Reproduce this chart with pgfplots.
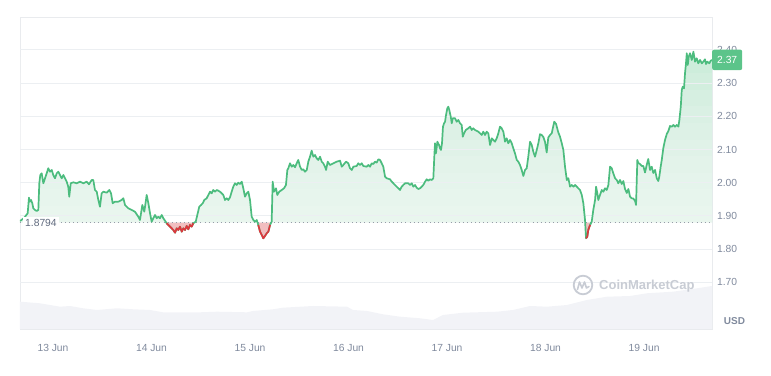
\documentclass[border=0pt]{standalone}
\usepackage{pgfplots}
\pgfplotsset{compat=1.18}
\usepackage{pgfplotstable}
\usepackage{fontspec}
\setmainfont{Liberation Sans}
\definecolor{cmcgreen}{RGB}{76,188,126}
\definecolor{badgegreen}{RGB}{92,196,138}
\definecolor{fillgreen}{RGB}{200,236,215}
\definecolor{cmcred}{RGB}{220,56,62}
\definecolor{redfill}{RGB}{242,190,192}
\definecolor{volcol}{RGB}{242,243,247}
\definecolor{gridcol}{RGB}{236,239,242}
\definecolor{framecol}{RGB}{233,235,238}
\definecolor{labelcol}{RGB}{128,138,157}
\definecolor{darklabel}{RGB}{96,106,126}
\definecolor{wmcol}{RGB}{200,204,212}
\definecolor{dotcol}{RGB}{150,156,168}

\pgfplotstableread{
d v
-0.335 1.8846
-0.294 1.8937
-0.257 1.9078
-0.244 1.9548
-0.234 1.9428
-0.223 1.9479
-0.210 1.9380
-0.200 1.9229
-0.183 1.9178
-0.165 1.9148
-0.149 1.9178
-0.139 1.9982
-0.129 2.0232
-0.115 2.0283
-0.098 1.9982
-0.081 2.0133
-0.064 2.0283
-0.048 2.0434
-0.030 2.0331
-0.013 2.0383
0.003 2.0232
0.020 2.0133
0.038 2.0283
0.054 2.0331
0.071 2.0232
0.088 2.0133
0.105 2.0232
0.122 2.0133
0.139 2.0030
0.155 1.9880
0.165 1.9578
0.180 1.9982
0.206 2.0012
0.241 1.9982
0.274 2.0030
0.308 1.9982
0.342 2.0030
0.365 1.9952
0.393 2.0081
0.409 2.0081
0.426 1.9780
0.444 1.9729
0.460 1.9479
0.477 1.9277
0.494 1.9681
0.511 1.9729
0.545 1.9699
0.572 1.9780
0.589 1.9681
0.606 1.9380
0.629 1.9428
0.663 1.9428
0.697 1.9479
0.714 1.9530
0.731 1.9328
0.764 1.9229
0.799 1.9178
0.832 1.9126
0.866 1.8976
0.883 1.8876
0.907 1.9328
0.927 1.9126
0.951 1.9630
0.968 1.9380
0.985 1.9078
1.002 1.8825
1.018 1.8928
1.036 1.9027
1.053 1.8928
1.069 1.8976
1.086 1.8928
1.104 1.9027
1.120 1.8928
1.137 1.8855
1.154 1.8777
1.188 1.8675
1.221 1.8575
1.239 1.8494
1.256 1.8626
1.272 1.8575
1.289 1.8675
1.307 1.8524
1.323 1.8626
1.340 1.8575
1.357 1.8696
1.374 1.8596
1.391 1.8726
1.408 1.8675
1.424 1.8777
1.449 1.8825
1.465 1.9027
1.485 1.9277
1.503 1.9328
1.520 1.9380
1.536 1.9479
1.560 1.9530
1.577 1.9630
1.594 1.9729
1.611 1.9681
1.627 1.9780
1.645 1.9729
1.662 1.9780
1.678 1.9759
1.695 1.9729
1.713 1.9681
1.729 1.9630
1.746 1.9479
1.764 1.9530
1.780 1.9479
1.797 1.9560
1.814 1.9729
1.830 1.9880
1.848 1.9982
1.865 1.9931
1.881 2.0000
1.898 1.9961
1.916 2.0030
1.932 1.9831
1.949 1.9578
1.966 1.9681
1.983 1.9729
2.000 1.9479
2.017 1.8976
2.034 1.8876
2.051 1.8825
2.068 1.8876
2.084 1.8726
2.102 1.8524
2.119 1.8425
2.135 1.8325
2.152 1.8395
2.170 1.8476
2.186 1.8524
2.203 1.8726
2.220 1.8825
2.230 2.0030
2.244 1.9729
2.264 1.9831
2.277 1.9630
2.297 1.9729
2.322 1.9780
2.345 1.9831
2.365 1.9931
2.379 2.0383
2.389 2.0434
2.406 2.0584
2.423 2.0482
2.440 2.0533
2.457 2.0464
2.474 2.0584
2.490 2.0684
2.508 2.0482
2.525 2.0383
2.541 2.0404
2.558 2.0331
2.576 2.0383
2.592 2.0633
2.609 2.0783
2.626 2.0964
2.643 2.0783
2.660 2.0834
2.677 2.0735
2.693 2.0684
2.711 2.0783
2.728 2.0633
2.744 2.0584
2.761 2.0482
2.772 2.0383
2.789 2.0633
2.812 2.0533
2.846 2.0584
2.880 2.0633
2.914 2.0663
2.931 2.0482
2.947 2.0533
2.975 2.0633
2.998 2.0584
3.015 2.0434
3.033 2.0383
3.049 2.0482
3.083 2.0503
3.099 2.0584
3.117 2.0533
3.134 2.0584
3.150 2.0503
3.185 2.0482
3.201 2.0533
3.218 2.0482
3.236 2.0584
3.252 2.0563
3.269 2.0633
3.286 2.0603
3.303 2.0705
3.320 2.0684
3.337 2.0584
3.353 2.0482
3.371 2.0181
3.388 2.0133
3.421 2.0102
3.439 2.0030
3.455 1.9982
3.472 1.9931
3.489 1.9880
3.506 1.9831
3.523 1.9780
3.540 1.9880
3.556 1.9931
3.574 1.9982
3.607 1.9982
3.624 1.9931
3.642 1.9982
3.658 1.9880
3.675 1.9931
3.692 1.9849
3.709 1.9810
3.726 1.9831
3.743 1.9880
3.759 1.9931
3.777 2.0030
3.794 2.0102
3.810 2.0060
3.827 2.0102
3.845 2.0081
3.861 2.0133
3.871 2.0783
3.878 2.1187
3.888 2.0886
3.902 2.1235
3.919 2.1136
3.929 2.1036
3.939 2.0985
3.949 2.1187
3.959 2.1687
3.970 2.1789
3.980 2.1837
3.990 2.2039
4.003 2.2241
4.013 2.2289
4.023 2.2190
4.038 2.1988
4.048 2.1789
4.058 2.1940
4.081 2.1940
4.098 2.1837
4.115 2.1889
4.132 2.1789
4.149 2.1738
4.160 2.1386
4.173 2.1488
4.190 2.1587
4.216 2.1639
4.234 2.1687
4.251 2.1587
4.267 2.1639
4.284 2.1587
4.318 2.1536
4.335 2.1488
4.352 2.1437
4.368 2.1536
4.386 2.1437
4.403 2.1536
4.419 2.1488
4.437 2.1136
4.454 2.1337
4.470 2.1286
4.487 2.1235
4.504 2.1337
4.521 2.1488
4.538 2.1687
4.555 2.1639
4.572 2.1536
4.589 2.1235
4.606 2.1337
4.622 2.1187
4.640 2.1286
4.657 2.1187
4.673 2.1036
4.690 2.0886
4.708 2.0684
4.724 2.0633
4.741 2.0533
4.758 2.0383
4.775 2.0202
4.792 2.0383
4.809 2.0434
4.825 2.0783
4.843 2.1235
4.860 2.1136
4.876 2.0934
4.893 2.0783
4.911 2.0985
4.927 2.1187
4.944 2.1460
4.961 2.1437
4.978 2.1376
4.995 2.1226
5.012 2.0910
5.028 2.1361
5.046 2.1437
5.063 2.1488
5.079 2.1708
5.089 2.1837
5.107 2.1768
5.130 2.1512
5.147 2.1386
5.165 2.1187
5.181 2.0985
5.198 2.0482
5.216 2.0081
5.232 2.0133
5.249 1.9880
5.266 1.9931
5.283 1.9880
5.300 1.9931
5.317 1.9880
5.333 1.9831
5.350 1.9780
5.368 1.9630
5.384 1.9380
5.401 1.8876
5.411 1.8325
5.424 1.8373
5.434 1.8575
5.452 1.8726
5.469 1.8825
5.485 1.9178
5.503 1.9479
5.513 1.9880
5.526 1.9681
5.536 1.9479
5.553 1.9630
5.571 1.9780
5.587 1.9729
5.604 1.9831
5.621 1.9780
5.638 1.9931
5.655 2.0482
5.672 2.0434
5.688 2.0283
5.706 2.0133
5.723 2.0081
5.739 1.9982
5.756 2.0081
5.774 1.9961
5.790 2.0051
5.807 1.9810
5.825 1.9690
5.841 1.9810
5.858 1.9578
5.875 1.9530
5.891 1.9524
5.909 1.9449
5.919 1.9328
5.932 2.0684
5.942 2.0593
5.959 2.0563
5.977 2.0503
5.993 2.0503
6.010 2.0307
6.027 2.0533
6.043 2.0714
6.061 2.0383
6.078 2.0482
6.094 2.0292
6.112 2.0383
6.129 2.0133
6.145 2.0051
6.155 2.0181
6.169 2.0482
6.180 2.0684
6.196 2.1045
6.213 2.1286
6.231 2.1467
6.247 2.1557
6.264 2.1708
6.282 2.1687
6.298 2.1738
6.315 2.1687
6.332 2.1738
6.349 2.1687
6.359 2.1889
6.373 2.2289
6.383 2.2792
6.393 2.2892
6.406 2.2843
6.416 2.3295
6.426 2.3596
6.434 2.3898
6.444 2.3545
6.454 2.3795
6.467 2.3898
6.485 2.3696
6.501 2.3946
6.518 2.3645
6.535 2.3747
6.551 2.3596
6.569 2.3696
6.586 2.3596
6.602 2.3645
6.619 2.3717
6.629 2.3575
6.643 2.3645
6.663 2.3596
6.677 2.3675
6.690 2.3696
}\pricedata

\pgfplotstableread{
d v
-0.335 1.6416
-0.132 1.6367
-0.030 1.6316
0.071 1.6265
0.173 1.6286
0.305 1.6217
0.447 1.6166
0.650 1.6217
0.812 1.6187
0.985 1.6166
1.117 1.6096
1.492 1.6096
1.665 1.6114
1.970 1.6096
2.030 1.6136
2.234 1.6187
2.335 1.6235
2.640 1.6286
2.985 1.6265
3.046 1.6166
3.188 1.6136
3.350 1.6036
3.523 1.5964
3.726 1.5916
3.858 1.5864
3.959 1.6015
4.162 1.6084
4.508 1.6114
4.670 1.6166
4.843 1.6286
5.015 1.6265
5.218 1.6316
5.421 1.6467
5.624 1.6566
5.858 1.6587
6.030 1.6669
6.294 1.6717
6.538 1.6819
6.690 1.6889
}\voldata

\begin{document}
\begin{tikzpicture}
\useasboundingbox (0,0) rectangle (771pt,375pt);
\begin{axis}[
  at={(20pt,46pt)}, anchor=south west,
  scale only axis, width=692pt, height=312pt,
  xmin=-0.335, xmax=6.69, ymin=1.5593, ymax=2.4991,
  axis line style={draw=framecol, line width=0.8pt},
  ytick={1.7,1.8,1.9,2.0,2.1,2.2,2.3,2.4},
  yticklabel pos=right,
  major tick length=0pt,
  xtick={0,1,2,3,4,5,6},
  xticklabels={13 Jun,14 Jun,15 Jun,16 Jun,17 Jun,18 Jun,19 Jun},
  tick label style={font=\fontsize{10.3}{12}\selectfont, text=labelcol},
  yticklabel style={/pgf/number format/fixed, /pgf/number format/fixed zerofill, /pgf/number format/precision=2, /pgf/number format/assume math mode=true, xshift=1.5pt},
  xticklabel style={yshift=-12pt},
]
% volume
\addplot[fill=volcol, draw=none] table[x=d,y=v]{\voldata} -- (axis cs:6.69,1.5593) -- (axis cs:-0.335,1.5593) -- cycle;
% green area between price and reference line
\addplot[fill=fillgreen, draw=none] table[x=d,y=v]{\pricedata} -- (axis cs:6.69,1.8794) -- (axis cs:-0.335,1.8794) -- cycle;
% fade towards the reference line
\pgfplotsinvokeforeach{1.93,1.98,2.03,2.08,2.13,2.18,2.23,2.28,2.33,2.38}{
  \addplot[fill=white, fill opacity=0.1, draw=none] coordinates {(-0.335,1.8794) (6.69,1.8794) (6.69,#1) (-0.335,#1)} -- cycle;
}
% red areas below the reference line
\addplot[fill=redfill, draw=none, restrict x to domain=1.14:1.44] table[x=d,y=v]{\pricedata} -- (axis cs:1.433,1.8794) -- (axis cs:1.150,1.8794) -- cycle;
\addplot[fill=redfill, draw=none, restrict x to domain=2.08:2.21] table[x=d,y=v]{\pricedata} -- (axis cs:2.215,1.8794) -- (axis cs:2.077,1.8794) -- cycle;
\addplot[fill=redfill, draw=none, restrict x to domain=5.405:5.46] table[x=d,y=v]{\pricedata} -- (axis cs:5.464,1.8794) -- (axis cs:5.4025,1.8794) -- cycle;
% grid lines
\pgfplotsinvokeforeach{1.7,1.8,1.9,2.0,2.1,2.2,2.3,2.4}{
  \draw[gridcol, line width=0.8pt] (axis cs:-0.335,#1) -- (axis cs:6.69,#1);
}
% reference line
\addplot[dotcol, line width=0.9pt, dash pattern=on 0.9pt off 3.2pt] coordinates {(-0.335,1.8794) (6.69,1.8794)};
% price line
\addplot[cmcgreen, line width=1.7pt, line join=round] table[x=d,y=v]{\pricedata};
\addplot[cmcred, line width=1.7pt, line join=round, restrict x to domain=1.14:1.44] table[x=d,y=v]{\pricedata};
\addplot[cmcred, line width=1.7pt, line join=round, restrict x to domain=2.08:2.21] table[x=d,y=v]{\pricedata};
\addplot[cmcred, line width=1.7pt, line join=round, restrict x to domain=5.405:5.46] table[x=d,y=v]{\pricedata};
\coordinate (lastpt) at (axis cs:6.69,2.37);
\coordinate (basept) at (axis cs:-0.335,1.8794);
\end{axis}
\node[fill=white, inner sep=2pt, anchor=west, text=darklabel, font=\fontsize{10.3}{12}\selectfont, xshift=3pt] at (basept) {1.8794};
\node[fill=badgegreen, text=white, anchor=west, minimum width=30pt, minimum height=20.5pt, inner sep=0pt, rounded corners=2pt, font=\fontsize{10.3}{12}\selectfont] at (lastpt) {2.37};
\node[anchor=center, text=labelcol, font=\bfseries\fontsize{10}{12}\selectfont] at (734.5pt,54pt) {USD};
\draw[wmcol, line width=1.8pt] (583pt,90pt) circle (9.3pt);
\draw[wmcol, line width=1.6pt, line join=round, line cap=round] (577.5pt,85.5pt) -- (579.5pt,93pt) -- (582pt,87pt) -- (584.5pt,93pt) -- (586.5pt,87pt) -- (589pt,88.5pt);
\node[anchor=base west, inner sep=0pt, text=wmcol, font=\bfseries\fontsize{13}{15}\selectfont] at (599pt,85.3pt) {CoinMarketCap};
\end{tikzpicture}
\end{document}
